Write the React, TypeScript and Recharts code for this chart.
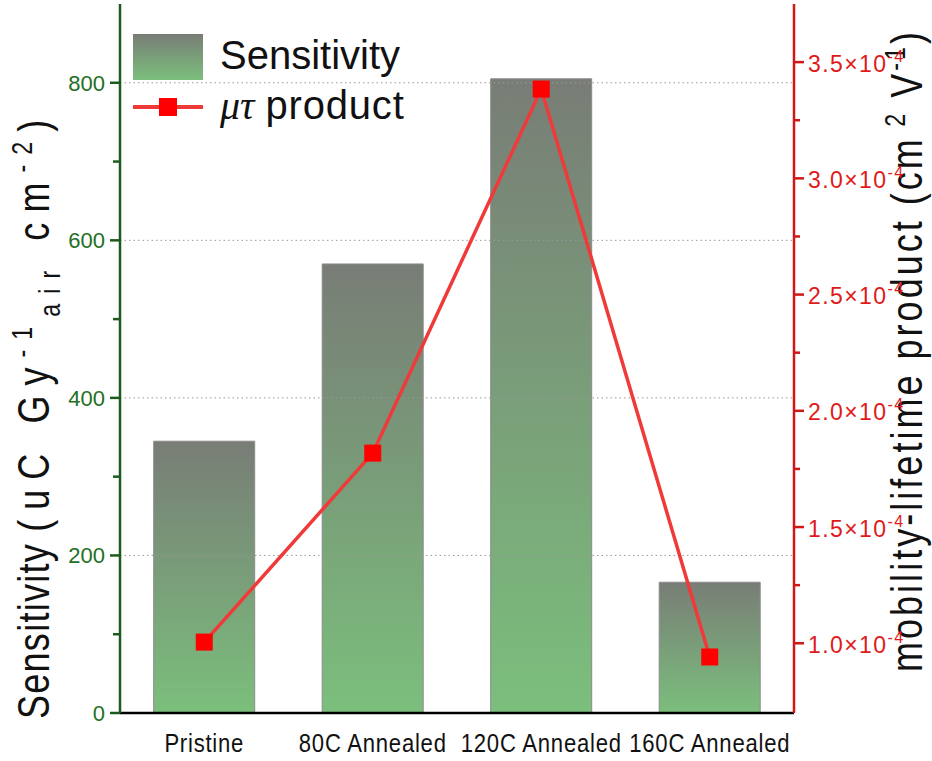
import React from 'react'
import { ComposedChart, Bar, Line, XAxis, YAxis, ReferenceLine } from 'recharts'

const categories = ['Pristine', '80C Annealed', '120C Annealed', '160C Annealed']
const sensitivity = [345, 570, 805, 166]
const muTau = [1.005e-4, 1.818e-4, 3.384e-4, 0.941e-4]

const leftMajorTicks = [0, 200, 400, 600, 800]
const leftMinorTicks = [100, 300, 500, 700]
const gridValues = [200, 400, 600, 800]
const rightMajorTicks = [1.0e-4, 1.5e-4, 2.0e-4, 2.5e-4, 3.0e-4, 3.5e-4]
const rightMinorTicks = [1.25e-4, 1.75e-4, 2.25e-4, 2.75e-4, 3.25e-4]

const data = categories.map((name, i) => ({
  name,
  sensitivity: sensitivity[i],
  muTau: muTau[i],
}))

const W = 932
const H = 761
const MARGIN = { top: 4, right: 0, bottom: 0, left: 0 }
const LEFT_W = 120
const RIGHT_W = 138
const BAND = (W - LEFT_W - RIGHT_W) / categories.length
const SQUEEZE = 0.85
const TITLE_SQUEEZE = 0.8

const SANS = '"Liberation Sans", Arial, sans-serif'
const GREEN_AXIS = '#1d5a1d'
const GREEN_TEXT = '#237023'
const RED_AXIS = '#d01818'
const RED_TEXT = '#e01a1a'

const LeftTick = (props: any) => {
  const { x, y, payload } = props
  const major = leftMajorTicks.includes(payload.value)
  return (
    <g>
      <line x1={x - (major ? 10 : 7)} x2={x} y1={y} y2={y} stroke={GREEN_AXIS} strokeWidth={2.5} />
      {major && (
        <text x={x - 15} y={y} dy="0.36em" textAnchor="end" fill={GREEN_TEXT} fontSize={22} fontFamily={SANS}>
          {payload.value}
        </text>
      )}
    </g>
  )
}

const RightTick = (props: any) => {
  const { x, y, payload } = props
  const major = rightMajorTicks.some((t) => Math.abs(t - payload.value) < 1e-9)
  return (
    <g>
      <line x1={x} x2={x + (major ? 10 : 6)} y1={y} y2={y} stroke={RED_AXIS} strokeWidth={2.5} />
      {major && (
        <text x={x + 14} y={y} dy="0.42em" fill={RED_TEXT} fontSize={23} fontFamily={SANS} letterSpacing={1.4}>
          <tspan>{(payload.value * 1e4).toFixed(1)}×10</tspan>
          <tspan dy={-10} fontSize={16}>-4</tspan>
        </text>
      )}
    </g>
  )
}

const BottomTick = (props: any) => {
  const { x, y, payload } = props
  return (
    <g transform={`translate(${x},${y + 39}) scale(${SQUEEZE},1)`}>
      <text x={0} y={0} textAnchor="middle" fill="#111" fontSize={26} fontFamily={SANS} letterSpacing={0.9}>
        {payload.value}
      </text>
    </g>
  )
}

const TopTick = (props: any) => {
  const { x, y, index } = props
  return (
    <g>
      <line x1={x} x2={x} y1={y} y2={y + 12} stroke="#000" strokeWidth={2.5} />
      {index < categories.length - 1 && (
        <line x1={x + BAND / 2} x2={x + BAND / 2} y1={y} y2={y + 7} stroke="#000" strokeWidth={2.5} />
      )}
    </g>
  )
}

const LeftTitle = (props: any) => {
  const { viewBox } = props
  const bx = viewBox.x + 49
  const by = viewBox.y + viewBox.height + 6
  return (
    <g
      transform={`translate(${bx},${by}) rotate(-90) scale(${TITLE_SQUEEZE},1)`}
      fill="#111"
      fontFamily={SANS}
      fontSize={45}
    >
      <text x={0} y={0} letterSpacing={1.6}>
        Sensitivity
      </text>
      <text x={234} y={0} textLength={515} lengthAdjust="spacing">
        <tspan>(uC Gy</tspan>
        <tspan dy={-17} fontSize={29}>-1</tspan>
        <tspan dy={28} fontSize={29}>air</tspan>
        <tspan dy={-11}> cm</tspan>
        <tspan dy={-17} fontSize={29}>-2</tspan>
        <tspan dy={17}>)</tspan>
      </text>
    </g>
  )
}

const RightTitle = (props: any) => {
  const { viewBox } = props
  const bx = viewBox.x + 128
  const by = viewBox.y + 668
  return (
    <g
      transform={`translate(${bx},${by}) rotate(-90) scale(${TITLE_SQUEEZE},1)`}
      fill="#111"
      fontFamily={SANS}
      fontSize={45}
    >
      <text x={0} y={0} textLength={800} lengthAdjust="spacing">
        <tspan>mobility-lifetime product (cm</tspan>
        <tspan dy={-17} fontSize={29}> 2</tspan>
        <tspan dy={17}> V</tspan>
        <tspan dy={-17} fontSize={29}>-1</tspan>
        <tspan dy={17}>)</tspan>
      </text>
    </g>
  )
}

const SquareDot = (props: any) => {
  const { cx, cy } = props
  if (cx == null || cy == null) return null
  return <rect x={cx - 8.5} y={cy - 8.5} width={17} height={17} fill="#ff0000" />
}

const ChartLegend = () => (
  <div style={{ position: 'absolute', left: 0, top: 0, width: 420, height: 130, pointerEvents: 'none' }}>
    <svg style={{ position: 'absolute', left: 133, top: 34 }} width={70} height={46}>
      <defs>
        <linearGradient id="legendGrad" x1="0" y1="0" x2="0" y2="1">
          <stop offset="0%" stopColor="#787d76" />
          <stop offset="100%" stopColor="#7bbf7c" />
        </linearGradient>
      </defs>
      <rect x={0} y={0} width={70} height={46} fill="url(#legendGrad)" />
    </svg>
    <div
      style={{
        position: 'absolute',
        left: 220,
        top: 32,
        fontSize: 40,
        fontFamily: SANS,
        lineHeight: '46px',
        color: '#111',
        whiteSpace: 'nowrap',
      }}
    >
      Sensitivity
    </div>
    <svg style={{ position: 'absolute', left: 133, top: 96 }} width={70} height={22}>
      <line x1={0} x2={70} y1={11} y2={11} stroke="#f03a3a" strokeWidth={4} />
      <rect x={26} y={2} width={18} height={18} fill="#ff0000" />
    </svg>
    <div
      style={{
        position: 'absolute',
        left: 220,
        top: 82,
        fontSize: 40,
        fontFamily: SANS,
        lineHeight: '46px',
        color: '#111',
        whiteSpace: 'nowrap',
      }}
    >
      <span style={{ fontFamily: '"Liberation Serif", "DejaVu Serif", serif', fontStyle: 'italic' }}>μτ</span>{' '}
      <span style={{ letterSpacing: 0.8 }}>product</span>
    </div>
  </div>
)

export default function App() {
  return (
    <div style={{ position: 'relative', width: W, height: H, background: '#fff' }}>
      <style>{`body{margin:0}`}</style>
      <ComposedChart width={W} height={H} data={data} margin={MARGIN} barCategoryGap="20%">
        <defs>
          <linearGradient id="barGrad" x1="0" y1="0" x2="0" y2="1">
            <stop offset="0%" stopColor="#787d76" />
            <stop offset="100%" stopColor="#7bbf7c" />
          </linearGradient>
        </defs>
        <XAxis
          dataKey="name"
          xAxisId="bottom"
          height={48}
          interval={0}
          tickSize={0}
          tickMargin={0}
          tickLine={false}
          tick={<BottomTick />}
          axisLine={{ stroke: '#000', strokeWidth: 2.5 }}
        />
        <XAxis
          dataKey="name"
          xAxisId="top"
          orientation="top"
          height={0}
          interval={0}
          tickSize={0}
          tickMargin={0}
          tickLine={false}
          tick={<TopTick />}
          axisLine={{ stroke: '#000', strokeWidth: 2.5 }}
        />
        <YAxis
          yAxisId="left"
          width={LEFT_W}
          domain={[0, 900]}
          ticks={[...leftMajorTicks, ...leftMinorTicks].sort((a, b) => a - b)}
          interval={0}
          tickSize={0}
          tickMargin={0}
          tickLine={false}
          tick={<LeftTick />}
          axisLine={{ stroke: GREEN_AXIS, strokeWidth: 2.5 }}
          label={<LeftTitle />}
        />
        <YAxis
          yAxisId="right"
          orientation="right"
          width={RIGHT_W}
          domain={[0.7e-4, 3.75e-4]}
          allowDataOverflow
          ticks={[...rightMajorTicks, ...rightMinorTicks].sort((a, b) => a - b)}
          interval={0}
          tickSize={0}
          tickMargin={0}
          tickLine={false}
          tick={<RightTick />}
          axisLine={{ stroke: RED_AXIS, strokeWidth: 2.5 }}
          label={<RightTitle />}
        />
        {gridValues.map((v) => (
          <ReferenceLine
            key={v}
            y={v}
            yAxisId="left"
            xAxisId="bottom"
            stroke="#9a9a9a"
            strokeDasharray="1.5 3"
            strokeWidth={1}
          />
        ))}
        <Bar
          dataKey="sensitivity"
          yAxisId="left"
          xAxisId="bottom"
          fill="url(#barGrad)"
          stroke="#8a8a8a"
          strokeWidth={1}
          isAnimationActive={false}
        />
        <Line
          dataKey="muTau"
          yAxisId="right"
          xAxisId="bottom"
          stroke="#f03a3a"
          strokeWidth={3.5}
          dot={<SquareDot />}
          activeDot={false}
          isAnimationActive={false}
        />
      </ComposedChart>
      <ChartLegend />
    </div>
  )
}
